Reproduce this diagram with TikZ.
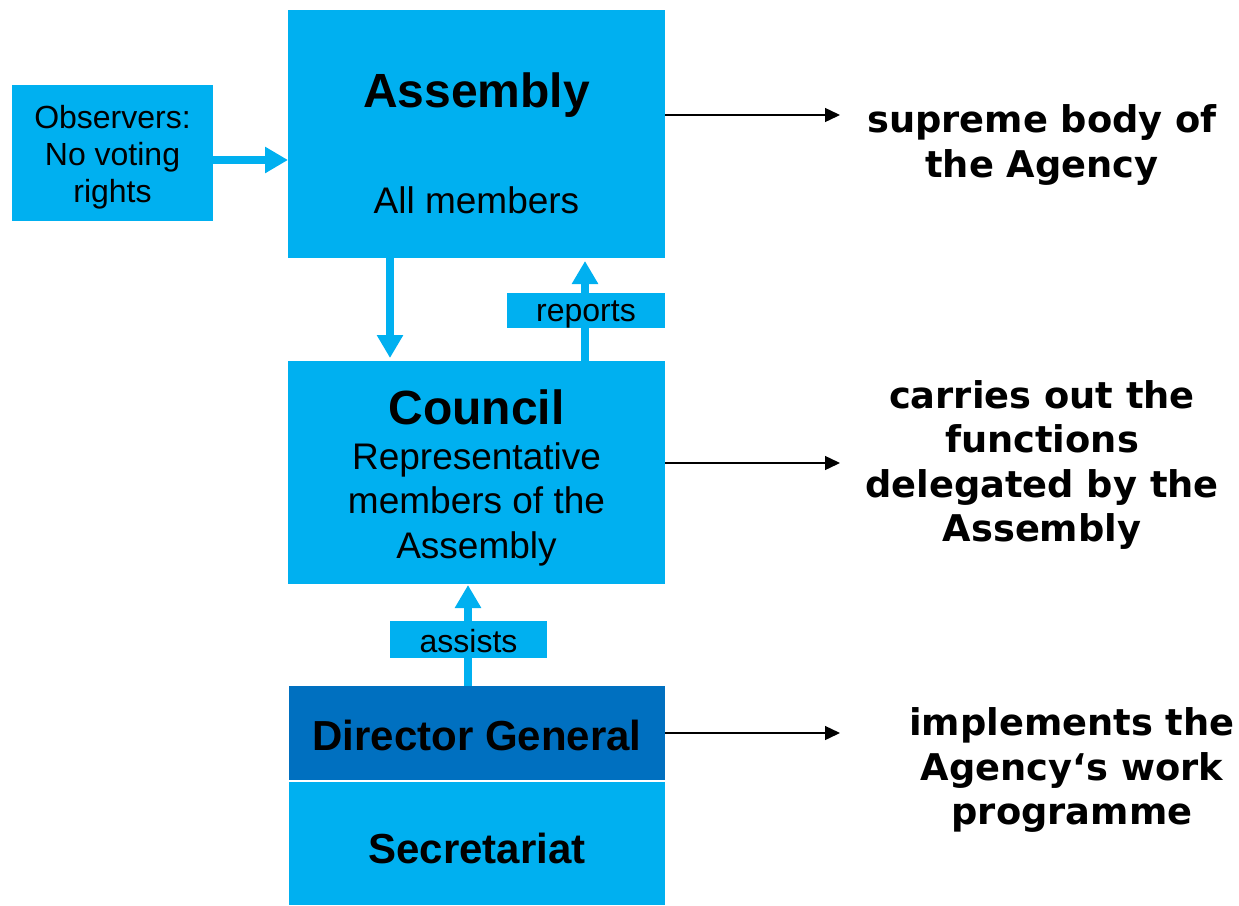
\documentclass[tikz,border=0pt]{standalone}
\usepackage{fontspec}
\setmainfont{Liberation Sans}
\newfontfamily\dvfont{DejaVu Sans}
\usetikzlibrary{arrows.meta}
\definecolor{lblue}{HTML}{00B0F0}
\definecolor{dblue}{HTML}{0070C0}
\begin{document}
\begin{tikzpicture}[x=1pt,y=-1pt,
  box/.style={fill=lblue, draw=none, inner sep=0pt, outer sep=0pt},
  dbox/.style={fill=dblue, draw=none, inner sep=0pt, outer sep=0pt},
  txt/.style={inner sep=0pt, outer sep=0pt, align=center, text=black},
  barrow/.style={draw=lblue, line width=7.5pt, -{Triangle[width=25pt,length=23pt]}},
  karrow/.style={draw=black, line width=1.4pt, -{Triangle[width=14pt,length=15pt]}},
  rtxt/.style={inner sep=0pt, outer sep=0pt, align=center, text=black,
    font=\dvfont\bfseries\fontsize{36.8}{44.5}\selectfont}
]
\useasboundingbox (0,0) rectangle (1239,905);
% boxes
\node[box, minimum width=201pt, minimum height=136pt] (obs) at (112.5,153) {};
\node[box, minimum width=377pt, minimum height=248pt] (asm) at (476.5,134) {};
\node[box, minimum width=377pt, minimum height=223pt] (cou) at (476.5,472.5) {};
\node[dbox, minimum width=376pt, minimum height=94pt] (dg) at (477,733) {};
\node[box, minimum width=376pt, minimum height=123pt] (sec) at (477,843.5) {};
% box texts
\node[txt, font=\fontsize{32}{37}\selectfont] (obst) at (112.5,157) {Observers:\\No voting\\rights};
\node[txt, font=\bfseries\fontsize{48}{52}\selectfont] (asmt) at (476.5,95) {Assembly};
\node[txt, font=\fontsize{37}{44}\selectfont] (asmm) at (476.5,200) {All members};
\node[txt, font=\fontsize{37}{44.5}\selectfont] (cout) at (476.5,478)
  {{\bfseries\fontsize{48}{48}\selectfont Council}\\Representative\\members of the\\Assembly};
\node[txt, font=\bfseries\fontsize{42}{46}\selectfont] (dgt) at (477,735) {Director General};
\node[txt, font=\bfseries\fontsize{42}{46}\selectfont] (sect) at (477,848) {Secretariat};
% helper coordinates
\coordinate (yo) at (0,160);
\coordinate (xa) at (390,0);
\coordinate (xr) at (585,0);
\coordinate (xs) at (468,0);
\coordinate (r1) at (840,115);
\coordinate (r2) at (840,463);
\coordinate (r3) at (840,733);
% blue arrows
\draw[barrow] (obs.east |- yo) -- (asm.west |- yo);
\draw[barrow, shorten >=3pt] (asm.south -| xa) -- (cou.north -| xa);
\draw[barrow, shorten >=3pt] (cou.north -| xr) -- (asm.south -| xr);
\draw[barrow, shorten >=1pt] (dg.north -| xs) -- (cou.south -| xs);
% arrow labels
\node[box, minimum width=158pt, minimum height=35pt] (rep) at (586,310.5) {};
\node[txt, font=\fontsize{32}{37}\selectfont] (rept) at (586,314) {reports};
\node[box, minimum width=157pt, minimum height=37pt] (ass) at (468.5,639.5) {};
\node[txt, font=\fontsize{32}{37}\selectfont] (asst) at (468.5,641) {assists};
% black arrows
\draw[karrow] (asm.east |- r1) -- (r1);
\draw[karrow] (cou.east |- r2) -- (r2);
\draw[karrow] (dg.east |- r3) -- (r3);
% right texts
\node[rtxt] (d1) at (1042,145) {supreme body of\\the Agency};
\node[rtxt] (d2) at (1042,465) {carries out the\\functions\\delegated by the\\Assembly};
\node[rtxt] (d3) at (1072,770) {implements the\\Agency‘s work\\programme};
\end{tikzpicture}
\end{document}
